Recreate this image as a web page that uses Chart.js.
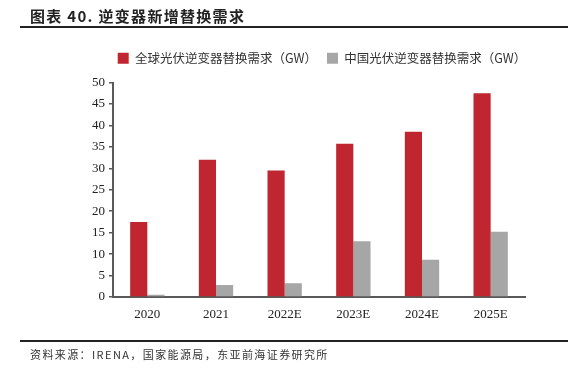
<!DOCTYPE html>
<html><head><meta charset="utf-8">
<script src="https://cdn.jsdelivr.net/npm/chart.js@4.4.1/dist/chart.umd.min.js"></script>
<style>
html,body{margin:0;padding:0;background:#fff;}
#wrap{position:relative;width:577px;height:369px;overflow:hidden;}
#title{position:absolute;left:30px;top:7px;font:bold 15px "Noto Sans CJK SC","Noto Sans",sans-serif;color:#222;letter-spacing:1.3px;line-height:18px;}
#line1{position:absolute;left:20px;top:26px;width:548px;height:2px;background:#222;}
#line2{position:absolute;left:20px;top:340px;width:548px;height:2px;background:#222;}
#src{position:absolute;left:30px;top:346px;font:11px "Noto Sans CJK SC","Noto Sans",sans-serif;color:#333;letter-spacing:1.4px;line-height:16px;}
canvas{position:absolute;left:0;top:0;}
</style></head>
<body><div id="wrap">
<canvas id="c" width="577" height="369"></canvas>
<div id="title">图表 40. 逆变器新增替换需求</div>
<div id="line1"></div>
<div id="line2"></div>
<div id="src">资料来源：IRENA，国家能源局，东亚前海证券研究所</div>
</div>
<script>
const categories = ["2020","2021","2022E","2023E","2024E","2025E"];
const globalDemand = [17.5, 32.0, 29.5, 35.7, 38.5, 47.5];
const chinaDemand = [0.5, 2.8, 3.2, 13.0, 8.7, 15.2];
const seriesNames = ["全球光伏逆变器替换需求（GW）", "中国光伏逆变器替换需求（GW）"];
const yTicks = [0,5,10,15,20,25,30,35,40,45,50];

const legendGap = {
  id: 'legendGap',
  beforeLayout(chart) {
    const l = chart.legend;
    if (l && !l._gapWrapped) {
      const f = l.fit.bind(l);
      l.fit = function () { f(); this.height += 8; };
      l._gapWrapped = true;
    }
  },
  afterLayout(chart) {
    const l = chart.legend, a = chart.chartArea;
    if (!l) return;
    const shift = (a.left + a.right) / 2 - (l.left + l.right) / 2 + 3;
    l.left += shift; l.right += shift;
  }
};

Chart.defaults.animation = false;
new Chart(document.getElementById('c'), {
  type: 'bar',
  data: {
    labels: categories,
    datasets: [
      {label: seriesNames[0], data: globalDemand, backgroundColor: '#C0262F', barPercentage: 1.0, categoryPercentage: 0.5},
      {label: seriesNames[1], data: chinaDemand, backgroundColor: '#A6A6A6', barPercentage: 1.0, categoryPercentage: 0.5}
    ]
  },
  plugins: [legendGap],
  options: {
    responsive: false,
    animation: false,
    layout: {padding: {left: 60, right: 52, top: 42, bottom: 42}},
    plugins: {
      tooltip: {enabled: false},
      legend: {
        position: 'top',
        labels: {boxWidth: 11, boxHeight: 11, padding: 10, color: '#333',
          font: {family: '"Noto Sans CJK SC", sans-serif', size: 12.5}}
      }
    },
    scales: {
      x: {
        grid: {display: false},
        border: {color: '#595959', width: 2},
        ticks: {color: '#222', font: {family: '"Liberation Serif", serif', size: 13}, padding: 2},
        afterFit: s => { s.height = 30; }
      },
      y: {
        min: 0, max: 50,
        afterBuildTicks: s => { s.ticks = yTicks.map(v => ({value: v})); },
        grid: {drawOnChartArea: false, tickLength: 4, color: '#595959', lineWidth: 1.5},
        border: {color: '#595959', width: 2},
        ticks: {color: '#222', font: {family: '"Liberation Serif", serif', size: 13}, padding: 4},
        afterFit: s => { s.width = 53; }
      }
    }
  }
});
</script>
</body></html>
